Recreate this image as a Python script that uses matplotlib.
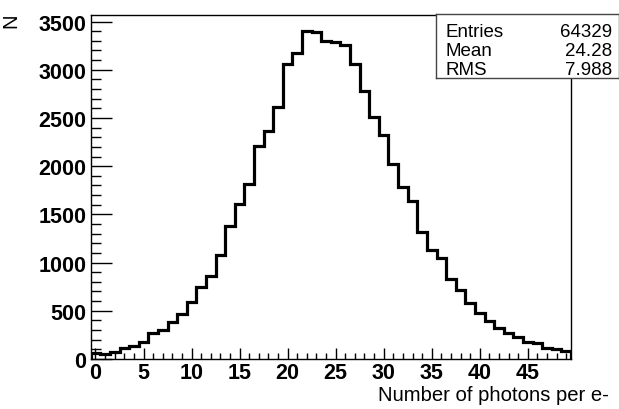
import numpy as np
import matplotlib
matplotlib.use("Agg")
from matplotlib import pyplot as plt
from matplotlib.ticker import MultipleLocator

# bin contents (photons per electron), bins centred on 0..49
bin_centers = list(range(50))
counts = [58, 50, 68, 110, 130, 179, 265, 300, 379, 465,
          593, 745, 862, 1083, 1380, 1611, 1818, 2208, 2360, 2618,
          3057, 3174, 3398, 3388, 3298, 3291, 3260, 3060, 2784, 2508,
          2318, 2018, 1780, 1643, 1318, 1135, 1049, 834, 713, 576,
          472, 392, 324, 272, 227, 179, 161, 117, 99, 82]
stat_names = ['Entries', 'Mean', 'RMS']
stat_values = ['64329', '24.28', '7.988']

plt.rcParams['font.family'] = ['Liberation Sans', 'DejaVu Sans']

fig = plt.figure(figsize=(6.19, 4.10), dpi=100)
ax = fig.add_axes([0.1465, 0.122, 0.776, 0.8395])

edges = np.array(bin_centers + [bin_centers[-1] + 1]) - 0.5
ax.stairs(counts, edges, baseline=0, color='black', linewidth=2.3)

ax.set_xlim(-0.5, 49.5)
ax.set_ylim(0, 3570)

ax.xaxis.set_major_locator(MultipleLocator(5))
ax.xaxis.set_minor_locator(MultipleLocator(1))
ax.yaxis.set_major_locator(MultipleLocator(500))
ax.yaxis.set_minor_locator(MultipleLocator(100))
ax.tick_params(axis='x', which='major', direction='in', length=8, width=1, pad=2)
ax.tick_params(axis='x', which='minor', direction='in', length=4, width=1)
ax.tick_params(axis='y', which='major', direction='in', length=15, width=1, pad=3)
ax.tick_params(axis='y', which='minor', direction='in', length=7.5, width=1)
for lab in ax.get_xticklabels() + ax.get_yticklabels():
    lab.set_fontweight('bold')
    lab.set_fontsize(15.5)

for s in ax.spines.values():
    s.set_linewidth(1)

fig.text(609 / 619, 1 - 401 / 410, 'Number of photons per e-', fontsize=14.6,
         ha='right', va='baseline')
fig.text(11 / 619, 1 - 14 / 410, 'N', rotation=90,
         ha='center', va='top', fontsize=14.5)

# stats box
box = fig.add_axes([436 / 619, 1 - 79 / 410, 1 - 436 / 619, 64 / 410])
box.set_xticks([])
box.set_yticks([])
box.set_xlim(0, 1)
box.set_ylim(0, 1)
for s in box.spines.values():
    s.set_linewidth(1)
    s.set_color('#444444')
for i, (n, v) in enumerate(zip(stat_names, stat_values)):
    yy = 0.72 - i * 0.295
    box.text(0.05, yy, n, ha='left', va='center', fontsize=13.5)
    box.text(0.965, yy, v, ha='right', va='center', fontsize=13.5)

plt.savefig('out.png', dpi=100)
